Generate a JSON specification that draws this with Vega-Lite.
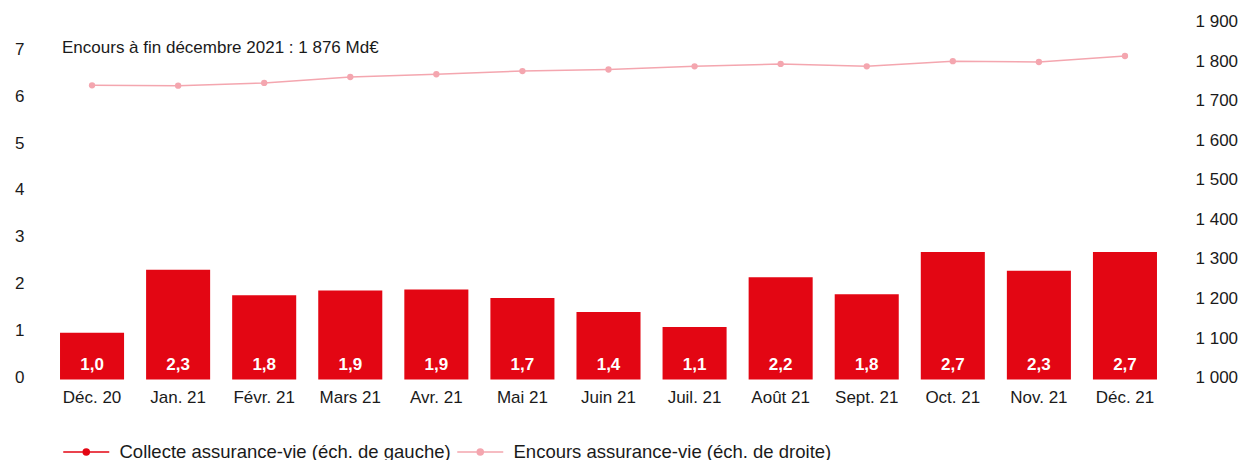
{
  "$schema": "https://vega.github.io/schema/vega-lite/v6.json",
  "width": 1119,
  "height": 356,
  "autosize": {"type": "none"},
  "padding": {"left": 49, "top": 23.6, "right": 71, "bottom": 80.4},
  "config": {
    "view": {"stroke": null},
    "font": "Liberation Sans",
    "locale": {"number": {"decimal": ",", "thousands": "\u00a0", "grouping": [3], "currency": ["", "\u00a0€"]}},
    "axis": {"labelFont": "Liberation Sans", "labelColor": "#1a1a1a", "labelFontSize": 17, "domain": false, "ticks": false, "grid": false, "title": null}
  },
  "data": {"values": [
    {"mois": "Déc. 20", "collecte": 1.0, "encours": 1744},
    {"mois": "Jan. 21", "collecte": 2.34, "encours": 1743},
    {"mois": "Févr. 21", "collecte": 1.8, "encours": 1750},
    {"mois": "Mars 21", "collecte": 1.9, "encours": 1765},
    {"mois": "Avr. 21", "collecte": 1.92, "encours": 1772},
    {"mois": "Mai 21", "collecte": 1.74, "encours": 1780},
    {"mois": "Juin 21", "collecte": 1.44, "encours": 1784},
    {"mois": "Juil. 21", "collecte": 1.12, "encours": 1792},
    {"mois": "Août 21", "collecte": 2.18, "encours": 1798},
    {"mois": "Sept. 21", "collecte": 1.82, "encours": 1792},
    {"mois": "Oct. 21", "collecte": 2.72, "encours": 1805},
    {"mois": "Nov. 21", "collecte": 2.32, "encours": 1803},
    {"mois": "Déc. 21", "collecte": 2.72, "encours": 1818}
  ]},
  "encoding": {
    "x": {
      "field": "mois", "type": "nominal", "sort": null,
      "scale": {"paddingInner": 0.256, "paddingOuter": 0.128},
      "axis": {"labelAngle": 0, "labelPadding": 10}
    }
  },
  "layer": [
    {
      "layer": [
        {
          "mark": {"type": "bar"},
          "encoding": {
            "y": {"field": "collecte", "type": "quantitative", "scale": {"domain": [0, 7.59], "nice": false},
                  "axis": {"values": [0, 1, 2, 3, 4, 5, 6, 7], "labelPadding": 25, "labelOffset": -2}},
            "color": {
              "datum": "Collecte assurance-vie (éch. de gauche)", "type": "nominal",
              "scale": {"domain": ["Collecte assurance-vie (éch. de gauche)", "Encours assurance-vie (éch. de droite)"], "range": ["#e30613", "#f4a6af"]},
              "legend": {
                "title": null, "orient": "none", "legendX": 28, "legendY": 419, "direction": "horizontal",
                "labelFontSize": 18.5, "labelColor": "#1a1a1a", "labelFont": "Liberation Sans", "labelLimit": 0,
                "symbolType": "M-4.6,0H4.6M0.6,0A0.6,0.6,0,1,1,-0.6,0A0.6,0.6,0,1,1,0.6,0Z",
                "symbolSize": 100, "symbolStrokeWidth": 1.5, "labelOffset": 24, "columnPadding": 3,
                "encode": {"symbols": {"update": {"stroke": {"scale": "color", "field": "value"}, "fill": {"scale": "color", "field": "value"}, "opacity": {"value": 1}}}}
              }
            }
          }
        },
        {
          "mark": {"type": "text", "color": "white", "fontWeight": "bold", "fontSize": 17, "baseline": "alphabetic", "dy": -9.5},
          "encoding": {
            "y": {"datum": 0},
            "text": {"field": "collecte", "type": "quantitative", "format": ".1f"}
          }
        },
        {
          "data": {"values": [{"mois": "Déc. 20", "note": "Encours à fin décembre 2021 : 1 876 Md€"}]},
          "mark": {"type": "text", "align": "left", "baseline": "middle", "fontSize": 17, "dx": 2, "dy": -3, "color": "#1a1a1a"},
          "encoding": {
            "x": {"field": "mois", "type": "nominal", "bandPosition": 0},
            "y": {"datum": 7},
            "text": {"field": "note"}
          }
        }
      ]
    },
    {
      "layer": [
        {
          "mark": {"type": "line", "strokeWidth": 1.5, "point": {"filled": true, "size": 40}},
          "encoding": {
            "y": {"field": "encours", "type": "quantitative", "scale": {"domain": [1000, 1900], "nice": false},
                  "axis": {"orient": "right", "values": [1000, 1100, 1200, 1300, 1400, 1500, 1600, 1700, 1800, 1900], "format": ",d", "labelPadding": 27, "labelOffset": -2}},
            "color": {"datum": "Encours assurance-vie (éch. de droite)", "type": "nominal"}
          }
        }
      ]
    }
  ],
  "resolve": {"scale": {"y": "independent"}}
}
